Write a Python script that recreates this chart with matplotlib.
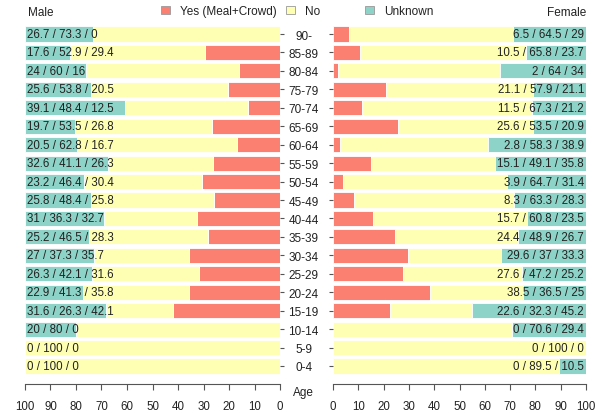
import matplotlib
matplotlib.use("Agg")
import matplotlib.pyplot as plt
from matplotlib.patches import Patch
import numpy as np

plt.rcParams['font.family'] = ['Liberation Sans', 'DejaVu Sans']

ages = ["90-", "85-89", "80-84", "75-79", "70-74", "65-69", "60-64", "55-59",
        "50-54", "45-49", "40-44", "35-39", "30-34", "25-29", "20-24", "15-19",
        "10-14", "5-9", "0-4"]

male_unknown = [26.7, 17.6, 24, 25.6, 39.1, 19.7, 20.5, 32.6, 23.2, 25.8, 31, 25.2,
                27, 26.3, 22.9, 31.6, 20, 0, 0]
male_no = [73.3, 52.9, 60, 53.8, 48.4, 53.5, 62.8, 41.1, 46.4, 48.4, 36.3, 46.5,
           37.3, 42.1, 41.3, 26.3, 80, 100, 100]
male_yes = [0, 29.4, 16, 20.5, 12.5, 26.8, 16.7, 26.3, 30.4, 25.8, 32.7, 28.3,
            35.7, 31.6, 35.8, 42.1, 0, 0, 0]

female_yes = [6.5, 10.5, 2, 21.1, 11.5, 25.6, 2.8, 15.1, 3.9, 8.3, 15.7, 24.4,
              29.6, 27.6, 38.5, 22.6, 0, 0, 0]
female_no = [64.5, 65.8, 64, 57.9, 67.3, 53.5, 58.3, 49.1, 64.7, 63.3, 60.8, 48.9,
             37, 47.2, 36.5, 32.3, 70.6, 100, 89.5]
female_unknown = [29, 23.7, 34, 21.1, 21.2, 20.9, 38.9, 35.8, 31.4, 28.3, 23.5, 26.7,
                  33.3, 25.2, 25, 45.2, 29.4, 0, 10.5]

xticks = [0, 10, 20, 30, 40, 50, 60, 70, 80, 90, 100]

c_yes = "#FB8072"
c_no = "#FFFFB3"
c_unk = "#8DD3C7"
txt = "#222222"
axis_col = "#555555"

W, H = 595, 414
fig = plt.figure(figsize=(W / 100, H / 100), dpi=100)

top_px, bot_px = 25.8, 376.2
ax_b = (H - bot_px) / H
ax_h = (bot_px - top_px) / H
axL = fig.add_axes([25 / W, ax_b, 255 / W, ax_h])
axR = fig.add_axes([333 / W, ax_b, 253 / W, ax_h])

y = np.arange(len(ages))[::-1]
bh = 0.82


def fmt(v):
    return "{:g}".format(v)


def stack(ax, parts, colors):
    left = np.zeros(len(ages))
    for vals, col in zip(parts, colors):
        v = np.array(vals, dtype=float)
        ax.barh(y, v, left=left, height=bh, color=col, edgecolor="white",
                linewidth=0.6)
        left += v


stack(axL, [male_yes, male_no, male_unknown], [c_yes, c_no, c_unk])
stack(axR, [female_yes, female_no, female_unknown], [c_yes, c_no, c_unk])

for i, yy in enumerate(y):
    axL.text(99.2, yy, f"{fmt(male_unknown[i])} / {fmt(male_no[i])} / {fmt(male_yes[i])}",
             ha="left", va="center", fontsize=8.3, color=txt)
    axR.text(99.2, yy, f"{fmt(female_yes[i])} / {fmt(female_no[i])} / {fmt(female_unknown[i])}",
             ha="right", va="center", fontsize=8.3, color=txt)

for ax in (axL, axR):
    ax.set_ylim(-0.5, len(ages) - 0.5)
    ax.set_xticks(xticks)
    ax.set_xticklabels([str(t) for t in xticks])
    ax.spines["top"].set_visible(False)
    ax.spines["bottom"].set_position(("outward", 6.5))
    ax.spines["bottom"].set_color(axis_col)
    ax.spines["bottom"].set_linewidth(0.8)
    ax.tick_params(axis="x", length=4.5, width=0.8, color=axis_col,
                   labelsize=8.3, labelcolor=txt, pad=7)
    ax.set_yticks(y)

axL.set_xlim(100, 0)
axR.set_xlim(0, 100)

axL.spines["left"].set_visible(False)
axL.spines["right"].set_visible(False)
axL.yaxis.tick_right()
axL.set_yticklabels(ages)
axL.tick_params(axis="y", length=3, width=0.8, color=axis_col, labelsize=8.5,
                labelcolor=txt, pad=14)
for lab in axL.get_yticklabels():
    lab.set_horizontalalignment("center")

axR.spines["left"].set_visible(False)
axR.spines["right"].set_visible(False)
axR.set_yticklabels([])
axR.tick_params(axis="y", length=3, width=0.8, color=axis_col)

fig.text(303 / W, 1 - 393 / H, "Age", ha="center", va="center", fontsize=8.5, color=txt)
fig.text(28 / W, 1 - 13 / H, "Male", ha="left", va="center", fontsize=8.5, color=txt)
fig.text(586 / W, 1 - 13 / H, "Female", ha="right", va="center", fontsize=8.5, color=txt)

# legend entries placed individually along the top
legend_items = [("Yes (Meal+Crowd)", c_yes, 161),
                ("No", c_no, 286),
                ("Unknown", c_unk, 365)]
for label, col, xpx in legend_items:
    fig.legend(handles=[Patch(facecolor=col, edgecolor="#999999", linewidth=0.6, label=label)],
               loc="center left", bbox_to_anchor=(xpx / W, 1 - 12 / H),
               frameon=False, fontsize=8.5, handlelength=0.75, handleheight=0.75,
               handletextpad=0.9, borderpad=0, borderaxespad=0, labelcolor=txt)

fig.savefig("out.png", dpi=100, facecolor="white")
